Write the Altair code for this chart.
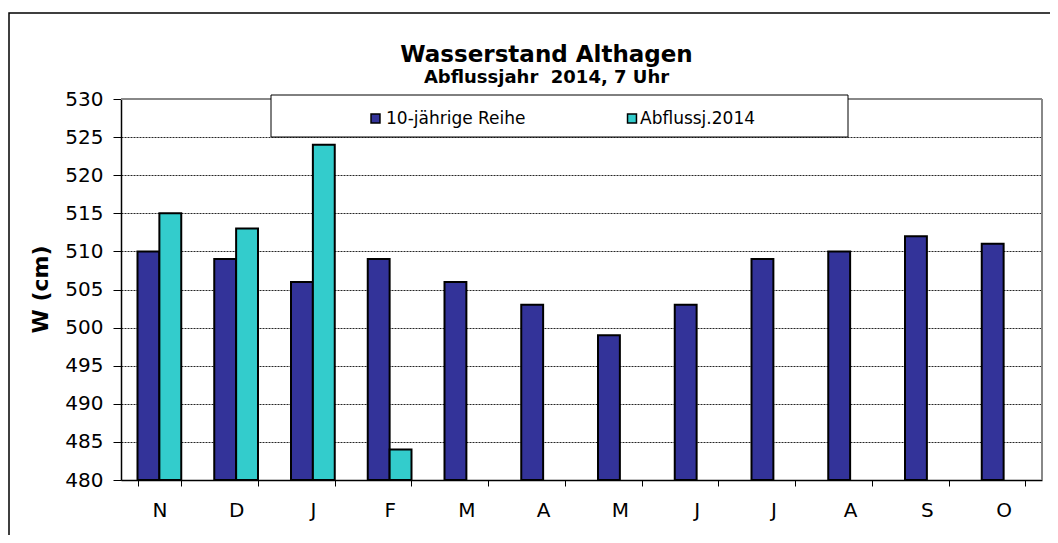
import altair as alt
import pandas as pd

# ---- data ----
months = ["Nov", "Dez", "Jan", "Feb", "Mär", "Apr", "Mai", "Jun", "Jul", "Aug", "Sep", "Okt"]
series_names = ["10-jährige Reihe", "Abflussj.2014"]
reihe_10j = [510, 509, 506, 509, 506, 503, 499, 503, 509, 510, 512, 511]
abfluss_2014 = [515, 513, 524, 484, None, None, None, None, None, None, None, None]
colors = ["#333399", "#33CCCC"]
y_ticks = [480, 485, 490, 495, 500, 505, 510, 515, 520, 525, 530]
title_text = "Wasserstand Althagen"
subtitle_text = "Abflussjahr\u00a0 2014, 7 Uhr"

rows = []
for m, a, b in zip(months, reihe_10j, abfluss_2014):
    rows.append({"Monat": m, "Reihe": series_names[0], "W": a})
    if b is not None:
        rows.append({"Monat": m, "Reihe": series_names[1], "W": b})
df = pd.DataFrame(rows)
leg_df = pd.DataFrame({"Reihe": series_names})

W, H = 921, 381
FONT = "DejaVu Sans"

color_scale = alt.Scale(domain=series_names, range=colors)

bars = alt.Chart(df).mark_bar(stroke="black", strokeWidth=2).encode(
    x=alt.X(
        "Monat:N",
        sort=months,
        scale=alt.Scale(domain=months, paddingInner=0.43, paddingOuter=0.215),
        axis=alt.Axis(
            title=None,
            labelAngle=0,
            labelExpr="slice(datum.label, 0, 1)",
            labelFontSize=20,
            labelColor="black",
            labelPadding=14,
            tickBand="extent",
            tickSize=6,
            tickColor="black",
            tickWidth=1,
            domainColor="black",
            domainWidth=1.5,
            grid=False,
        ),
    ),
    xOffset=alt.XOffset("Reihe:N", scale=alt.Scale(domain=series_names)),
    y=alt.Y(
        "W:Q",
        scale=alt.Scale(domain=[480, 530], zero=False, nice=False),
        axis=alt.Axis(
            title="W (cm)",
            values=y_ticks,
            labelFontSize=20,
            labelColor="black",
            labelPadding=10,
            tickSize=8,
            tickColor="black",
            tickWidth=1,
            domainColor="black",
            domainWidth=1.5,
            grid=True,
            gridColor="black",
            gridDash=[2, 1],
            gridWidth=1,
            gridOpacity=0.85,
            titleFontSize=22,
            titleFontWeight="bold",
            titleColor="black",
            titleAngle=270,
            titleX=-81,
            titleY=190,
            titleAlign="center",
            titleBaseline="middle",
        ),
    ),
    y2=alt.datum(y_ticks[0]),
    color=alt.Color("Reihe:N", scale=color_scale, legend=None),
)

one = pd.DataFrame({"k": [0]})

frame = alt.Chart(one).mark_rect(fill="white", fillOpacity=0, stroke="black", strokeWidth=1.5).encode(
    x=alt.value(-112), x2=alt.value(1000), y=alt.value(-86), y2=alt.value(600)
)

top_line = alt.Chart(one).mark_rule(color="#888888", strokeWidth=2).encode(
    x=alt.value(0), x2=alt.value(W), y=alt.value(0)
)
right_line = alt.Chart(one).mark_rule(color="#888888", strokeWidth=2).encode(
    x=alt.value(W), y=alt.value(0), y2=alt.value(H)
)

legend_box = alt.Chart(one).mark_rect(fill="white", stroke="black", strokeWidth=1).encode(
    x=alt.value(150), x2=alt.value(727), y=alt.value(-4), y2=alt.value(38)
)

title_mark = alt.Chart(one).mark_text(
    align="center", baseline="alphabetic", fontSize=23, fontWeight="bold", color="black", font=FONT
).encode(x=alt.value(425.5), y=alt.value(-37), text=alt.value(title_text))
subtitle_mark = alt.Chart(one).mark_text(
    align="center", baseline="alphabetic", fontSize=18, fontWeight="bold", color="black", font=FONT
).encode(x=alt.value(425.5), y=alt.value(-16), text=alt.value(subtitle_text))

sq_x = [254.5, 511]
tx_x = [265, 519]
legend_layers = []
for i, name in enumerate(series_names):
    base = alt.Chart(leg_df).transform_filter(alt.datum.Reihe == name)
    legend_layers.append(
        base.mark_square(size=80, filled=True, stroke="black", strokeWidth=1.5, opacity=1).encode(
            x=alt.value(sq_x[i]), y=alt.value(19.5),
            color=alt.Color("Reihe:N", scale=color_scale, legend=None),
        )
    )
    legend_layers.append(
        base.mark_text(align="left", baseline="middle", fontSize=17, color="black", font=FONT).encode(
            x=alt.value(tx_x[i]), y=alt.value(20), text="Reihe:N"
        )
    )

chart = alt.layer(
    frame, bars, top_line, right_line, title_mark, subtitle_mark, legend_box, *legend_layers
).properties(
    width=W,
    height=H,
    autosize=alt.AutoSizeParams(type="none"),
    padding={"left": 113, "top": 91, "right": 8, "bottom": 55},
).configure(font=FONT).configure_view(strokeWidth=0).configure_axis(labelFont=FONT, titleFont=FONT)

chart.save("out.html", embed_options={"renderer": "svg", "actions": False})
